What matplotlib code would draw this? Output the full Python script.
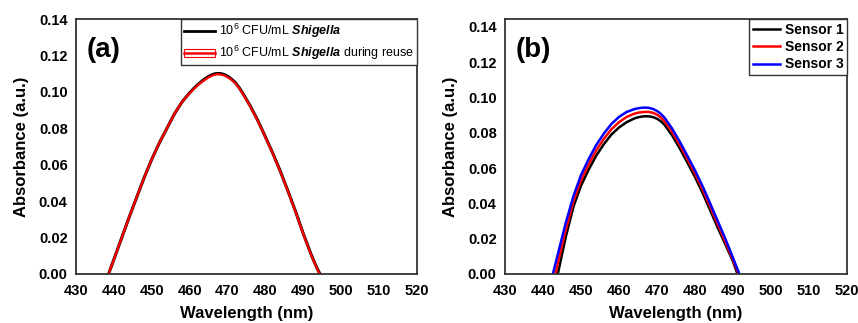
import matplotlib.pyplot as plt
from matplotlib.lines import Line2D
from matplotlib.patches import Rectangle

plt.rcParams['font.family'] = ['Liberation Sans', 'DejaVu Sans']
plt.rcParams['mathtext.fontset'] = 'custom'
plt.rcParams['mathtext.rm'] = 'Liberation Sans'
plt.rcParams['mathtext.it'] = 'Liberation Sans:italic:bold'

# panel (a): Shigella before / during reuse
wl_a = [438.6, 440, 442, 444, 446, 448, 450, 452, 454, 456, 458, 460, 461,
        462, 463, 464, 465, 466, 467, 468, 469, 470, 471, 472, 473, 474, 476,
        478, 480, 482, 484, 486, 488, 490, 492, 493, 494, 494.4]
abs_fresh = [0.000, 0.008, 0.0195, 0.031, 0.042, 0.053, 0.063, 0.072, 0.080,
             0.088, 0.0945, 0.0995, 0.1017, 0.1037, 0.1055, 0.1071, 0.1085,
             0.1095, 0.1101, 0.1101, 0.1096, 0.1086, 0.1071, 0.1052, 0.1025,
             0.0993, 0.0922, 0.0842, 0.0752, 0.0660, 0.0560, 0.0452, 0.0340,
             0.0220, 0.0110, 0.0060, 0.0015, 0.000]
abs_reuse = [0.000, 0.008, 0.0195, 0.031, 0.042, 0.053, 0.063, 0.072, 0.080,
             0.088, 0.0945, 0.0993, 0.1014, 0.1034, 0.1051, 0.1066, 0.1080,
             0.1090, 0.1096, 0.1096, 0.1091, 0.1081, 0.1067, 0.1048, 0.1022,
             0.0990, 0.0920, 0.0840, 0.0750, 0.0658, 0.0558, 0.0450, 0.0338,
             0.0218, 0.0108, 0.0058, 0.0013, 0.000]

# panel (b): three sensors
wl_s1 = [443.9, 446, 448, 450, 452, 454, 456, 458, 460, 462, 464, 465, 466,
         467, 468, 469, 470, 471, 472, 474, 476, 478, 480, 482, 484, 486, 488,
         490, 491.2]
sensor1 = [0.000, 0.021, 0.038, 0.050, 0.059, 0.067, 0.0735, 0.079, 0.083,
           0.086, 0.0881, 0.0888, 0.0892, 0.0894, 0.0893, 0.0889, 0.0880,
           0.0866, 0.0845, 0.0785, 0.0712, 0.0632, 0.0550, 0.0460, 0.0362,
           0.0262, 0.0168, 0.0072, 0.000]
wl_s2 = [443.3, 444, 446, 448, 450, 452, 454, 456, 458, 460, 462, 464, 465,
         466, 467, 468, 469, 470, 471, 472, 474, 476, 478, 480, 482, 484, 486,
         488, 490, 491.5]
sensor2 = [0.000, 0.007, 0.025, 0.041, 0.053, 0.062, 0.070, 0.0765, 0.082,
           0.086, 0.089, 0.0908, 0.0914, 0.0917, 0.0919, 0.0918, 0.0913,
           0.0903, 0.0888, 0.0866, 0.0805, 0.0732, 0.0652, 0.0570, 0.0480,
           0.0382, 0.0282, 0.0182, 0.0082, 0.000]
wl_s3 = [442.6, 444, 446, 448, 450, 452, 454, 456, 458, 460, 462, 464, 465,
         466, 467, 468, 469, 470, 471, 472, 474, 476, 478, 480, 482, 484, 486,
         488, 490, 491.7]
sensor3 = [0.000, 0.012, 0.029, 0.044, 0.056, 0.065, 0.073, 0.0795, 0.085,
           0.089, 0.0918, 0.0934, 0.0939, 0.0942, 0.0943, 0.0941, 0.0935,
           0.0924, 0.0908, 0.0886, 0.0824, 0.0750, 0.0670, 0.0588, 0.0498,
           0.0400, 0.0300, 0.0200, 0.0092, 0.000]

label_a1 = r'10$^{6}$ CFU/mL $\it{Shigella}$'
label_a2 = r'10$^{6}$ CFU/mL $\it{Shigella}$ during reuse'
sensor_labels = ['Sensor 1', 'Sensor 2', 'Sensor 3']

fig = plt.figure(figsize=(8.58, 3.23), dpi=100)
ax1 = fig.add_axes([0.0886, 0.152, 0.3974, 0.789])
ax2 = fig.add_axes([0.5886, 0.152, 0.3984, 0.789])


def style(ax, ytop):
    ax.set_xlim(430, 520)
    ax.set_ylim(0, ytop)
    ax.set_xticks(range(430, 521, 10))
    ax.set_yticks([0, 0.02, 0.04, 0.06, 0.08, 0.10, 0.12, 0.14])
    ax.set_yticklabels([f'{v:.2f}' for v in ax.get_yticks()])
    ax.tick_params(direction='in', length=0, labelsize=10.5)
    ax.tick_params(axis='x', pad=7)
    ax.tick_params(axis='y', pad=6)
    for lab in ax.get_xticklabels() + ax.get_yticklabels():
        lab.set_fontweight('bold')
    for s in ax.spines.values():
        s.set_linewidth(1.3)
        s.set_color('#333333')
    ax.set_xlabel('Wavelength (nm)', fontsize=12, fontweight='bold', labelpad=6)
    ax.set_ylabel('Absorbance (a.u.)', fontsize=12, fontweight='bold', labelpad=7)


# (a)
ax1.plot(wl_a, abs_fresh, color='black', lw=2.2)
ax1.plot(wl_a, abs_reuse, color='red', lw=1.6)
style(ax1, 0.14)
ax1.text(0.03, 0.93, '(a)', transform=ax1.transAxes, fontsize=20,
         fontweight='bold', va='top', ha='left')
h1 = Line2D([], [], color='black', lw=2)
h2 = (Rectangle((0, 0), 1, 1, facecolor='none', edgecolor='red', lw=0.8),
      Line2D([], [], color='red', lw=1.8))
leg = ax1.legend([h1, h2], [label_a1, label_a2], loc='upper right',
                 bbox_to_anchor=(1, 1), borderaxespad=0, fancybox=False,
                 framealpha=1, edgecolor='#333333', fontsize=9,
                 handlelength=2.5, handletextpad=0.3, borderpad=0.25,
                 labelspacing=0.3)
leg.get_frame().set_linewidth(1.0)

# (b)
ax2.plot(wl_s1, sensor1, color='black', lw=1.8)
ax2.plot(wl_s2, sensor2, color='red', lw=1.8)
ax2.plot(wl_s3, sensor3, color='blue', lw=1.8)
style(ax2, 0.1445)
ax2.text(0.03, 0.93, '(b)', transform=ax2.transAxes, fontsize=20,
         fontweight='bold', va='top', ha='left')
leg2 = ax2.legend(sensor_labels, loc='upper right', bbox_to_anchor=(1, 1),
                  borderaxespad=0, fancybox=False, framealpha=1,
                  edgecolor='#333333', prop={'size': 10, 'weight': 'bold'},
                  handlelength=2.0, handletextpad=0.3, borderpad=0.25,
                  labelspacing=0.25)
leg2.get_frame().set_linewidth(1.0)

fig.savefig('out.png', dpi=100)
